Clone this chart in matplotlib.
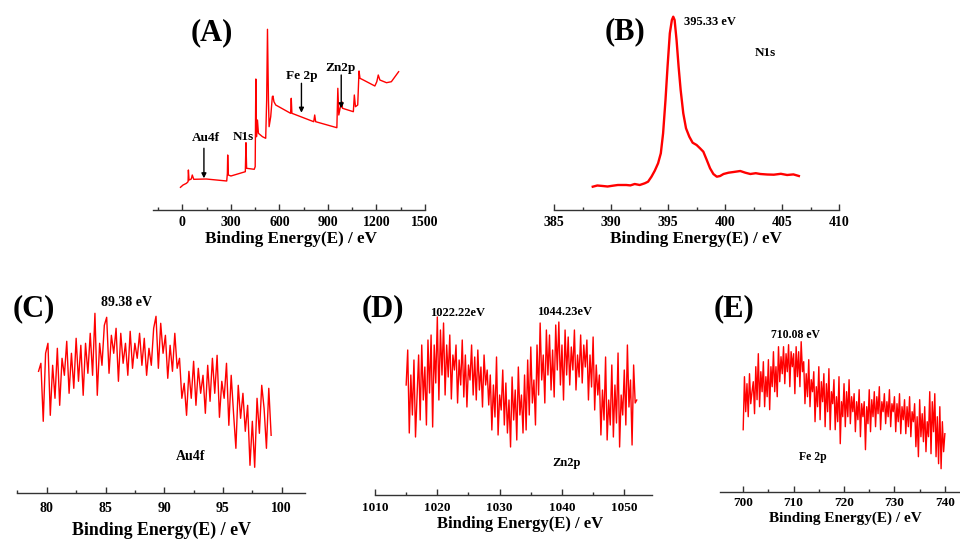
import numpy as np
import matplotlib
matplotlib.use("Agg")
import matplotlib.pyplot as plt
from matplotlib.ticker import MultipleLocator

plt.rcParams['font.family'] = ['Liberation Serif', 'DejaVu Serif']
plt.rcParams['font.weight'] = 'bold'

# ---- (A) survey spectrum (intensity in a.u.) ----
survey_ev = [-12, 4, 25, 35, 37, 41, 55, 61, 70, 147, 274, 278, 280, 284, 300,
             389, 393, 397, 444, 450, 454, 458, 464, 470, 495, 515, 521, 526,
             532, 536, 546, 556, 560, 566, 577, 669, 673, 677, 812, 818, 824,
             955, 961, 967, 975, 986, 990, 1057, 1063, 1070, 1084, 1092, 1098,
             1119, 1190, 1202, 1211, 1221, 1262, 1292, 1337]
survey_int = [22.7, 25, 26.7, 28.3, 40, 30, 31, 35, 30.7, 31, 29, 36.7, 55, 35, 34,
              38.3, 67.3, 41.7, 40.7, 43.3, 131, 73.3, 90, 76.7, 73.3, 71.7, 110, 180.7,
              110, 83.3, 93.3, 113.3, 114, 108.3, 105, 96.7, 111.7, 96.7, 88.3, 95, 88.3,
              82.3, 121.7, 95, 101.7, 108.3, 101.7, 98.3, 115, 103.3, 105, 139, 131.7,
              130, 124, 128.3, 135, 130, 127.3, 128.3, 138.3]

# ---- (B) N1s ----
n1s_ev = [388.40, 388.8, 389.28, 389.7, 390.16, 390.6, 391.34, 391.7, 392.08, 392.52,
          392.96, 393.25, 393.55, 393.84, 394.13, 394.37, 394.57, 394.78, 394.96,
          395.16, 395.34, 395.46, 395.58, 395.75, 395.93, 396.11, 396.34, 396.58,
          396.87, 397.16, 397.51, 397.81, 398.10, 398.40, 398.69, 398.98, 399.28,
          399.57, 399.87, 400.31, 400.75, 401.34, 401.78, 402.22, 402.7, 403.10,
          403.7, 404.28, 404.9, 405.45, 406.0, 406.48]
n1s_int = [23.3, 24.5, 24, 23.5, 24.3, 25, 25, 24.6, 26, 25, 26.7, 28.3, 33.3, 39.3,
           46.7, 56.7, 76.7, 110, 143.3, 176.7, 190, 193.3, 190, 170, 143.3, 120, 96.7,
           81.7, 73.3, 67.3, 65, 61.7, 58.3, 50, 41.7, 36, 33.3, 34, 36, 37.3, 38, 39,
           37.3, 36, 36.8, 36, 35.5, 35.3, 36.2, 35, 35.6, 34]

# ---- (C) Au4f, 79.3-99.1 eV, 0.2 eV step ----
au_start, au_step = 79.3, 0.2
au_int = [122, 130, 72, 140, 150, 78, 128, 95, 145, 88,
          135, 118, 152, 100, 140, 105, 155, 112, 148, 98,
          150, 120, 160, 118, 180, 98, 150, 128, 168, 176,
          120, 158, 140, 165, 112, 160, 130, 150, 118, 162,
          125, 150, 135, 160, 128, 155, 118, 145, 128, 165,
          177, 125, 170, 140, 158, 115, 148, 122, 160, 125,
          135, 95, 110, 78, 122, 95, 132, 88, 125, 100,
          118, 80, 128, 92, 135, 100, 138, 76, 112, 95,
          130, 68, 118, 80, 45, 108, 75, 100, 62, 88,
          28, 72, 26, 95, 60, 108, 85, 45, 105, 58]

# ---- (D) Zn2p, 1015-1052 eV, 0.25 eV step ----
zn_start, zn_step = 1015.0, 0.25
zn_int = [110, 145, 62, 120, 80, 135, 58, 100,
          140, 75, 150, 95, 128, 70, 155, 102,
          160, 68, 150, 112, 178, 95, 165, 120,
          172, 100, 150, 118, 160, 96, 140, 125,
          150, 92, 135, 110, 155, 98, 140, 88, 130, 115, 150, 100,
          138, 95, 145, 105, 128, 88, 140, 110, 125, 90,
          120, 65, 110, 78, 138, 60, 100, 85, 125, 70,
          112, 62, 95, 48, 118, 75, 105, 55, 128, 80, 100, 62,
          120, 65, 135, 80, 148, 92, 115, 70,
          150, 100, 172, 115, 140, 92, 165, 120,
          160, 105, 145, 98, 170, 125, 173, 110, 150, 95, 165, 120,
          158, 110, 148, 125, 165, 105, 140, 118, 160, 112, 150, 128,
          155, 95, 140, 108, 158, 85, 130, 100,
          120, 60, 105, 75, 138, 55, 95, 70,
          130, 58, 110, 72, 142, 48, 100, 80,
          125, 70, 150, 88, 115, 50, 130, 92, 95]

# ---- (E) Fe 2p, 700-740 eV, 0.25 eV step ----
fe_start, fe_step = 700.0, 0.25
fe_int = [62, 115, 80, 108, 75, 118, 88, 100,
          110, 78, 125, 92, 138, 85, 120, 100,
          130, 85, 115, 95, 132, 82, 125, 105,
          140, 100, 125, 95, 145, 110, 135, 118,
          145, 108, 138, 120, 147, 105, 140, 125,
          138, 98, 145, 115, 140, 105, 150, 120,
          130, 88, 118, 95, 132, 85, 112, 100,
          120, 70, 105, 85, 125, 72, 110, 90,
          118, 65, 108, 80, 123, 62, 100, 88,
          112, 62, 95, 70, 115, 48, 90, 75,
          108, 65, 100, 75, 112, 68, 95, 80,
          98, 60, 90, 72, 102, 55, 88, 75,
          90, 42, 85, 68, 102, 60, 92, 75,
          100, 65, 95, 78, 105, 62, 90, 80,
          98, 68, 90, 75, 102, 65, 88, 80,
          95, 60, 88, 70, 98, 58, 85, 72,
          92, 58, 85, 65, 95, 55, 80, 70,
          88, 45, 75, 35, 92, 55, 78, 50,
          85, 40, 70, 55, 100, 38, 90, 60,
          98, 35, 75, 28, 85, 23, 70, 40,
          58]

W, H = 960, 541
fig = plt.figure(figsize=(W / 100, H / 100), dpi=100)
RED = '#ff0000'
XLABEL = 'Binding Energy(E) / eV'


def make_ax(x0, x1, ybot, ytop, xlim, major, minor, tick_fs, pad):
    ax = fig.add_axes([x0 / W, 1 - ybot / H, (x1 - x0) / W, (ybot - ytop) / H])
    ax.set_xlim(*xlim)
    ax.set_ylim(0, ybot - ytop)
    for s in ['top', 'left', 'right']:
        ax.spines[s].set_visible(False)
    ax.spines['bottom'].set_color('#333333')
    ax.spines['bottom'].set_linewidth(1.0)
    ax.set_yticks([])
    ax.patch.set_alpha(0)
    ax.xaxis.set_major_locator(MultipleLocator(major))
    ax.xaxis.set_minor_locator(MultipleLocator(minor))
    ax.tick_params(axis='x', which='major', direction='in', length=4, width=1,
                   color='#333333', labelsize=tick_fs, pad=pad)
    ax.tick_params(axis='x', which='minor', direction='in', length=2.5, width=1,
                   color='#333333')
    for lab in ax.get_xticklabels():
        lab.set_fontweight('bold')
    return ax


def xlabel(xc, baseline, fs):
    fig.text(xc / W, 1 - baseline / H, XLABEL, ha='center', va='baseline',
             fontsize=fs, fontweight='bold')


def txt(ax, x, y, s, fs=9.5):
    ax.text(x, y, s, ha='center', va='center', fontsize=fs, fontweight='bold',
            clip_on=False)


# (A)
axA = make_ax(153.3, 425, 210, 20, (-180, 1500), 300, 150, 10, 4)
axA.plot(survey_ev, survey_int, color=RED, lw=1.0)
txt(axA, 180, 177, '(A)', 22)
txt(axA, 147, 71.7, 'Au4f')
txt(axA, 376, 73.3, 'N1s')
txt(axA, 740, 134, 'Fe 2p')
txt(axA, 975, 142.3, 'Zn2p')
for xe, y0, y1 in [(133, 61.7, 31.7), (736, 126.7, 97.3), (982, 135, 101.7)]:
    axA.annotate('', xy=(xe, y1), xytext=(xe, y0),
                 arrowprops=dict(arrowstyle='-|>', color='black', lw=1.0,
                                 mutation_scale=7, shrinkA=0, shrinkB=0))
xlabel(291, 243, 12.3)

# (B)
axB = make_ax(554, 839, 210, 15, (385, 410), 5, 2.5, 10, 4)
axB.plot(n1s_ev, n1s_int, color=RED, lw=1.7)
txt(axB, 391.2, 178, '(B)', 22)
txt(axB, 398.7, 188.3, '395.33 eV', 9)
txt(axB, 403.5, 157, 'N1s', 9.5)
xlabel(696.5, 243, 12.3)

# (C)
au_ev = au_start + au_step * np.arange(len(au_int))
axC = make_ax(17.4, 305.2, 493.3, 300, (77.5, 102), 5, 2.5, 10, 6)
axC.plot(au_ev, au_int, color=RED, lw=1.0)
txt(axC, 78.86, 185, '(C)', 22)
txt(axC, 86.8, 190.6, '89.38 eV', 10)
txt(axC, 92.26, 36.7, 'Au4f', 10)
xlabel(161, 534.5, 12.9)

# (D)
zn_ev = zn_start + zn_step * np.arange(len(zn_int))
axD = make_ax(375, 651.7, 495, 300, (1010, 1054.4), 10, 5, 9.5, 5)
axD.plot(zn_ev, zn_int, color=RED, lw=1.0)
txt(axD, 1011.3, 186.7, '(D)', 22)
txt(axD, 1023.3, 181.7, '1022.22eV', 9)
txt(axD, 1040.4, 183.3, '1044.23eV', 9)
txt(axD, 1040.7, 32.3, 'Zn2p', 9)
xlabel(520, 528, 12)

# (E)
fe_ev = fe_start + fe_step * np.arange(len(fe_int))
axE = make_ax(720, 960, 491.7, 300, (695.4, 743.0), 10, 5, 9.5, 3.6)
axE.plot(fe_ev, fe_int, color=RED, lw=1.0)
txt(axE, 698.2, 183.3, '(E)', 22)
txt(axE, 710.45, 156.7, '710.08 eV', 8.5)
txt(axE, 713.9, 35, 'Fe 2p', 8.5)
xlabel(845, 521.7, 11)

fig.savefig('out.png', dpi=100)
